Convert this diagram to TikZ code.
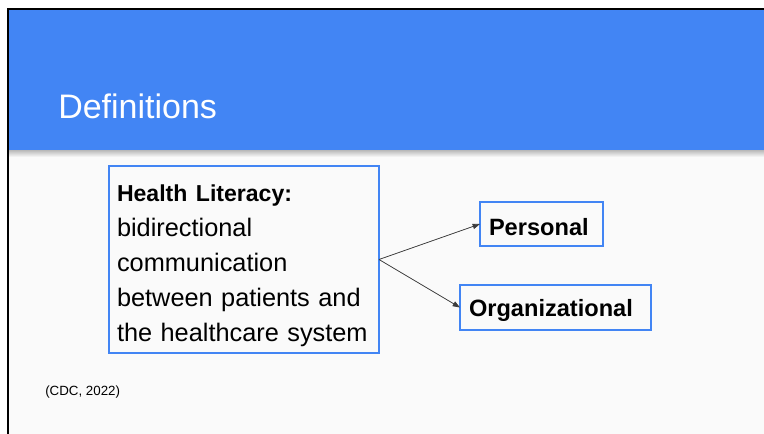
\documentclass[tikz,border=0pt]{standalone}
\usepackage{fontspec}
\setmainfont{Liberation Sans}
\usetikzlibrary{arrows.meta,positioning}

\definecolor{slideblue}{HTML}{4285F4}
\definecolor{slidebg}{HTML}{FAFAFA}
\definecolor{arrgray}{HTML}{3C3C3C}

\begin{document}
\begin{tikzpicture}[x=0.75pt, y=-0.75pt,
  box/.style={draw=slideblue, line width=2.2pt, outer sep=0pt, anchor=north west, align=left},
  term/.style={box, inner xsep=6.75pt, text height=17.4pt, font=\bfseries\fontsize{17.7}{21}\selectfont},
  arr/.style={-{Triangle[length=5.5pt,width=4pt]}, draw=arrgray, fill=arrgray, line width=0.55pt},
  lab/.style={inner sep=0pt, anchor=base west}
]
\useasboundingbox (0,0) rectangle (764,434);

% slide page and title bar
\fill[white] (0,0) rectangle (764,434);
\fill[slidebg] (9,10) rectangle (764,434);
\shade[top color=black!28, bottom color=slidebg] (9,150) rectangle (764,157);
\fill[slideblue] (9,10) rectangle (764,150);
\draw[black, line width=2pt] (8,434) -- (8,9) -- (764,9);

\node[lab, text=white, font=\fontsize{25.5}{30}\selectfont] (title) at (58,119) {Definitions};

% definition box
\node[box, inner xsep=6pt, minimum width=202.5pt, minimum height=140.25pt,
      text width=190.5pt, font=\fontsize{19}{26.25}\selectfont] (hl) at (109,166)
  {\rule{0pt}{21.6pt}{\bfseries\fontsize{17.3}{26.25}\selectfont Health Literacy:}\\
   bidirectional\\
   communication\\
   between patients and\\
   the healthcare system};

% the two kinds
\node[term, minimum width=92.25pt, minimum height=33pt, text width=78.75pt] (pers) at (480,202) {Personal};
\node[term, minimum width=143.25pt, minimum height=33.75pt, text width=129.75pt] (org) at (460,285) {Organizational};

\draw[arr] (hl.east) -- (pers.west);
\draw[arr] (hl.east) -- (org.west);

\node[lab, font=\fontsize{10}{12}\selectfont] (cite) at (45,396) {(CDC, 2022)};
\end{tikzpicture}
\end{document}
